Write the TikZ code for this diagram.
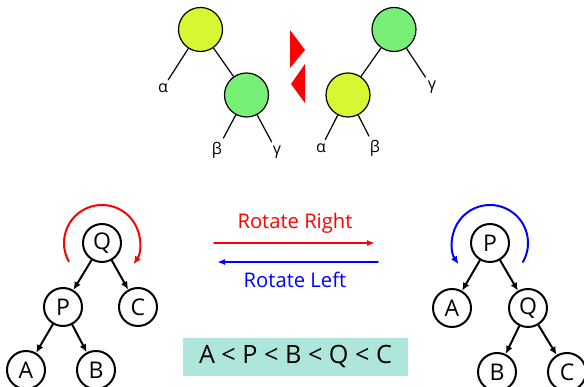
\documentclass[tikz,border=0pt]{standalone}
\usepackage{fontspec}
\setmainfont{Open Sans}
\usetikzlibrary{arrows.meta}
\definecolor{keyyellow}{HTML}{D8F632}
\definecolor{keygreen}{HTML}{78F078}
\definecolor{boxteal}{HTML}{AFE6DC}
\begin{document}
\begin{tikzpicture}[x=1pt,y=1pt,line cap=round,
    key/.style={circle,draw,line width=1.2pt,minimum size=44pt,inner sep=0pt},
    vtx/.style={circle,draw,line width=2pt,minimum size=38pt,inner sep=0pt,font=\fontsize{23}{27}\selectfont},
    sub/.style={inner sep=1pt,font=\fontsize{16}{19}\selectfont},
    edge/.style={line width=2pt,-{Latex[length=8pt,width=7pt]}},
    spin/.style={line width=2pt,-{Latex[length=8pt,width=7pt]}}]
  \useasboundingbox (0,0) rectangle (584,387);
  % top: the two small trees
  \node[key,fill=keyyellow] (ya) at (200.5,357.5) {};
  \node[key,fill=keygreen] (ga) at (246.5,292) {};
  \node[sub] (al1) at (163,299) {α};
  \node[sub] (be1) at (217,237) {β};
  \node[sub] (ga1) at (277,235) {γ};
  \draw[line width=1.2pt] (ya) -- (ga);
  \draw[line width=1.2pt,shorten >=3pt] (ya) -- (al1);
  \draw[line width=1.2pt,shorten >=3pt] (ga) -- (be1);
  \draw[line width=1.2pt,shorten >=3pt] (ga) -- (ga1);
  \fill[red] (290,357) -- (305,337) -- (290,319) -- cycle;
  \fill[red] (305,323) -- (291,303) -- (305,284) -- cycle;
  \node[key,fill=keygreen] (gb) at (394,357.5) {};
  \node[key,fill=keyyellow] (yb) at (348,292) {};
  \node[sub] (ga2) at (432,300) {γ};
  \node[sub] (al2) at (321,239) {α};
  \node[sub] (be2) at (375,239) {β};
  \draw[line width=1.2pt] (gb) -- (yb);
  \draw[line width=1.2pt,shorten >=3pt] (gb) -- (ga2);
  \draw[line width=1.2pt,shorten >=3pt] (yb) -- (al2);
  \draw[line width=1.2pt,shorten >=3pt] (yb) -- (be2);
  % bottom left: before
  \node[vtx] (lq) at (102,144) {Q};
  \node[vtx] (lp) at (63,80) {P};
  \node[vtx] (lc) at (138,80) {C};
  \node[vtx] (la) at (26,17) {A};
  \node[vtx] (lb) at (96,17) {B};
  \draw[edge] (lq) -- (lp); \draw[edge] (lq) -- (lc);
  \draw[edge] (lp) -- (la); \draw[edge] (lp) -- (lb);
  \draw[spin,red] ([shift={(209:38)}]lq.center) arc[start angle=209,end angle=-34,radius=38];
  % middle
  \coordinate (rr0) at (214,144); \coordinate (rr1) at (375,144);
  \coordinate (rl0) at (378,125); \coordinate (rl1) at (217,125);
  \draw[red,line width=1.7pt,-{Latex[length=8pt,width=6pt]}] (rr0) -- (rr1);
  \draw[blue,line width=1.7pt,-{Latex[length=8pt,width=6pt]}] (rl0) -- (rl1);
  \node[red,font=\fontsize{20.2}{24}\selectfont] (rright) at (295,164) {Rotate Right};
  \node[blue,font=\fontsize{20.2}{24}\selectfont] (rleft) at (295,107) {Rotate Left};
  \node[fill=boxteal,minimum width=225pt,minimum height=38pt,inner sep=0pt,
        font=\fontsize{25.2}{29}\selectfont] (order) at (295.5,30) {A < P < B < Q < C};
  % bottom right: after
  \node[vtx] (rp) at (490,144) {P};
  \node[vtx] (ra) at (452,79) {A};
  \node[vtx] (rq) at (528,79) {Q};
  \node[vtx] (rb) at (497,15) {B};
  \node[vtx] (rc) at (567,15) {C};
  \draw[edge] (rp) -- (ra); \draw[edge] (rp) -- (rq);
  \draw[edge] (rq) -- (rb); \draw[edge] (rq) -- (rc);
  \draw[spin,blue] ([shift={(-30:38)}]rp.center) arc[start angle=-30,end angle=214,radius=38];
\end{tikzpicture}
\end{document}
